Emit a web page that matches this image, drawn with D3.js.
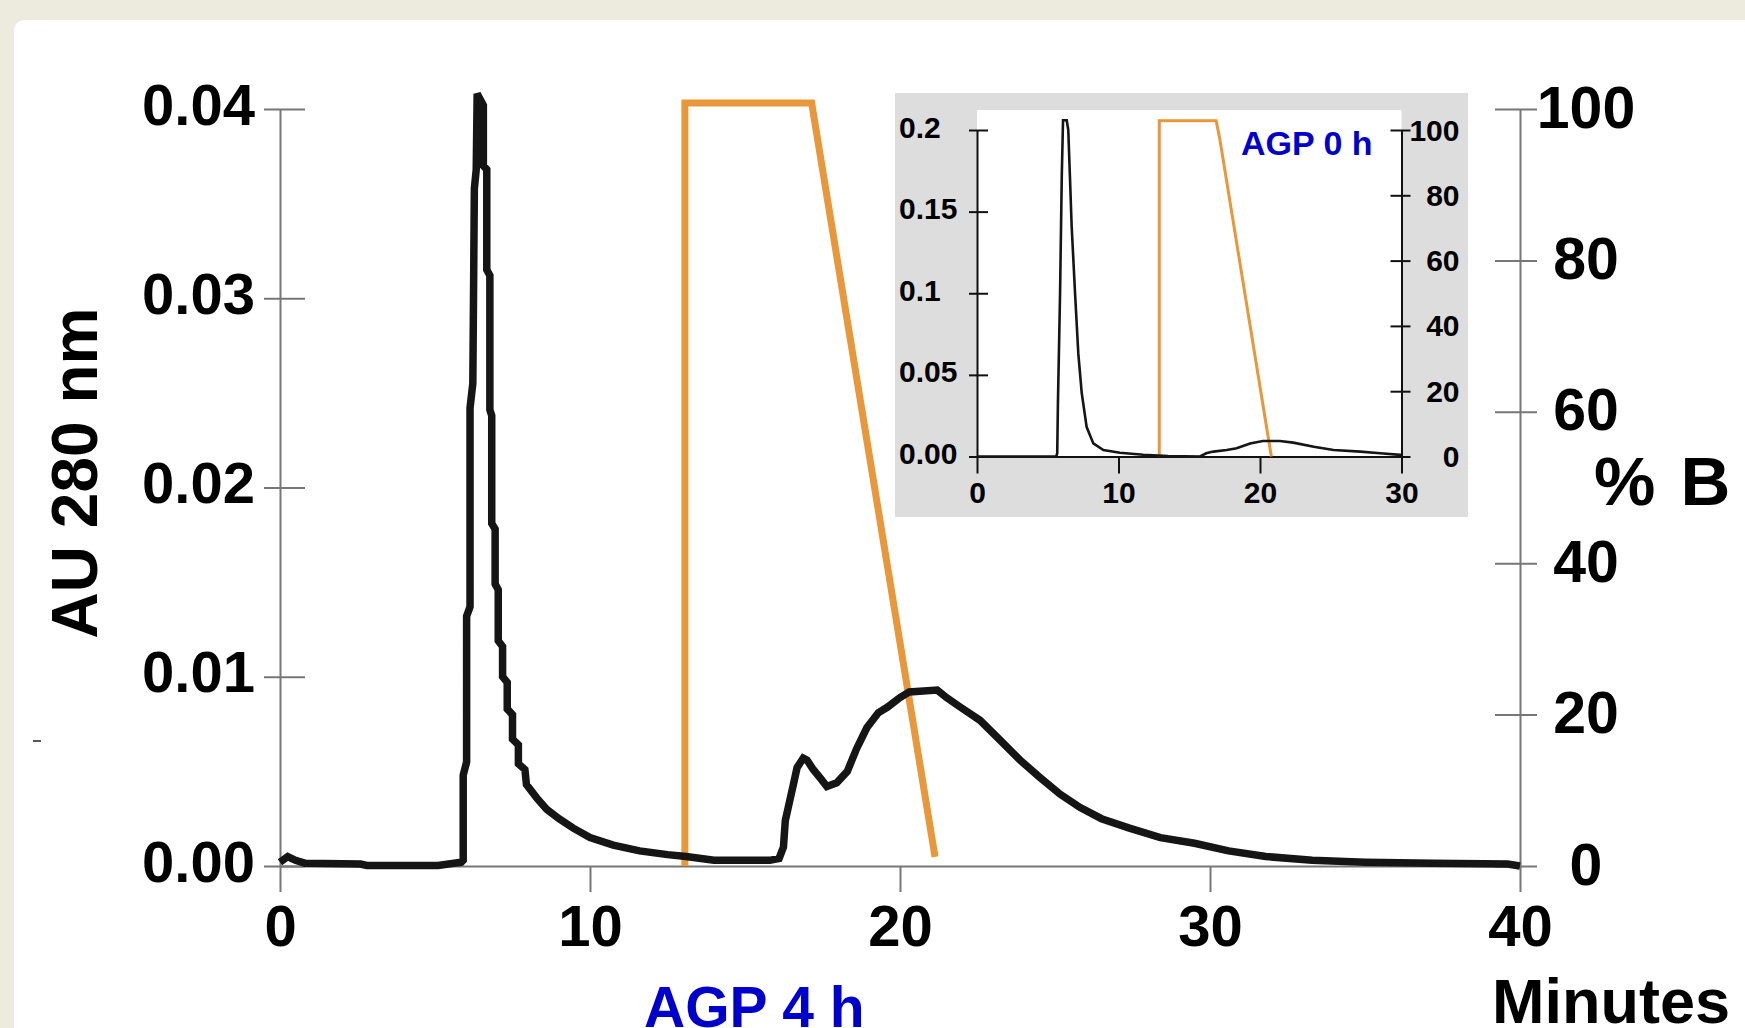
<!DOCTYPE html>
<html>
<head>
<meta charset="utf-8">
<script src="https://cdn.jsdelivr.net/npm/d3@7"></script>
<style>
    body { margin: 0; background: #edebde; }
    svg { display: block; font-family: "Liberation Sans", Arial, sans-serif; font-weight: bold; }
</style>
</head>
<body>
<svg id="chart" width="1745" height="1028"></svg>
<script>
// ---- main run: AGP 4 h ----
const mainTime = [0, 0.25, 0.5, 0.8, 2.6, 2.8, 5.1, 5.85, 5.91, 5.91, 6.02, 6.02, 6.13, 6.13, 6.22, 6.27, 6.33, 6.36,
    6.56, 6.56, 6.67, 6.67, 6.77, 6.77, 6.83, 6.83, 6.94, 6.94, 7.04, 7.04, 7.18, 7.18, 7.33, 7.33, 7.5, 7.5, 7.69, 7.69,
    7.9, 7.95, 8.28, 8.6, 9.0, 9.46, 10.0, 10.75, 11.6, 12.5, 13.1, 14.0, 15.8, 16.1, 16.24, 16.3, 16.45, 16.56, 16.68,
    16.88, 17.0, 17.2, 17.45, 17.64, 17.96, 18.3, 18.6, 18.93, 19.3, 19.6, 20.0, 20.3, 21.2, 21.5, 21.94, 22.58, 23.2,
    23.87, 24.5, 25.16, 25.8, 26.5, 27.4, 28.4, 29.5, 30.6, 31.8, 33.3, 35.0, 37.2, 39.6, 40.0];
const mainAbs = [0.0002, 0.0005, 0.0003, 0.00015, 0.0001, 0.00003, 0.00003, 0.0002, 0.0003, 0.0048, 0.0055, 0.0132,
    0.0137, 0.0242, 0.0255, 0.0358, 0.0368, 0.0408,
    0.0402, 0.0370, 0.0368, 0.0315, 0.0312, 0.0241, 0.0238, 0.0181, 0.0178, 0.0149, 0.0146, 0.0119, 0.0116, 0.0100,
    0.0097, 0.0083, 0.0080, 0.0067, 0.0064, 0.0054,
    0.0051, 0.0043, 0.0036, 0.0030, 0.0025, 0.0020, 0.0015, 0.0011, 0.0008, 0.0006, 0.0005, 0.0003, 0.0003, 0.0004,
    0.0010, 0.0024, 0.0035, 0.0043, 0.0052,
    0.0057, 0.0056, 0.0051, 0.0046, 0.0042, 0.0044, 0.0050, 0.0062, 0.0073, 0.0081, 0.0084, 0.0089, 0.0092, 0.0093,
    0.0089, 0.0084, 0.0077, 0.0067,
    0.0056, 0.0047, 0.0038, 0.0031, 0.0025, 0.0020, 0.0015, 0.0012, 0.0008, 0.0005, 0.0003, 0.0002, 0.00014, 0.0001, 0.0];
const mainGradTime = [13.06, 13.06, 17.15, 21.13];
const mainGradB = [0, 100.8, 100.8, 1.2];

const mainXTicks = [0, 10, 20, 30, 40];
const mainAbsTicks = [0, 0.01, 0.02, 0.03, 0.04];
const mainBTicks = [0, 20, 40, 60, 80, 100];

// ---- inset run: AGP 0 h ----
const insetTime = [0, 5.6, 5.67, 5.72, 5.87, 5.99, 6.08, 6.34, 6.45, 6.57, 6.69, 6.93, 7.16, 7.4, 7.75, 8.22, 8.93,
    10.1, 11.75, 13.5, 15.76, 16.2, 16.7, 17.65, 18.35, 19.3, 20.2, 21.4, 22.35, 23.8, 25.2, 27.1, 28.5, 29.9, 30];
const insetAbs = [0, 0, 0.002, 0.033, 0.1, 0.171, 0.206, 0.206, 0.2, 0.171, 0.141, 0.1, 0.063, 0.039, 0.018, 0.008, 0.004,
    0.0023, 0.0011, 0.0003, 0, 0.002, 0.003, 0.004, 0.005, 0.008, 0.0095, 0.0095, 0.0085, 0.006, 0.004, 0.003, 0.002, 0.001, 0.001];
const insetGradTime = [12.88, 12.88, 16.9, 17.15, 20.8];
const insetGradB = [0, 102.8, 102.8, 97.5, 0];

const insetXTicks = [0, 10, 20, 30];
const insetAbsTicks = [0, 0.05, 0.1, 0.15, 0.2];
const insetBTicks = [0, 20, 40, 60, 80, 100];

const svg = d3.select("#chart");
const axisGrey = "#777";
const traceBlack = "#151515";
const gradOrange = "#e8973a";
const labelBlue = "#0000cc";

// white card on the beige page
svg.append("rect")
    .attr("x", 14).attr("y", 20)
    .attr("width", 1760).attr("height", 1040)
    .attr("rx", 10)
    .attr("fill", "#fff");

// stray mark left of the y title
svg.append("line")
    .attr("x1", 33).attr("x2", 41).attr("y1", 741).attr("y2", 741)
    .attr("stroke", "#222").attr("stroke-width", 1.5);

// ================= main chart =================
const x = d3.scaleLinear().domain([0, 40]).range([280, 1520]);
const yAbs = d3.scaleLinear().domain([0, 0.04]).range([866, 109]);
const yB = d3.scaleLinear().domain([0, 100]).range([866, 109]);

function styleAxis(g, colour) {
    g.select(".domain").attr("stroke", colour).attr("stroke-width", 2);
    g.selectAll(".tick line").attr("stroke", colour).attr("stroke-width", 2);
    g.selectAll(".tick text").attr("fill", "#000");
}

const leftAxis = svg.append("g")
    .attr("transform", `translate(${x(0)},0)`)
    .call(d3.axisLeft(yAbs).tickValues(mainAbsTicks).tickFormat(d3.format(".2f")).tickSize(0).tickPadding(25));
styleAxis(leftAxis, axisGrey);
leftAxis.selectAll(".tick line").attr("x1", -16).attr("x2", 25);
leftAxis.selectAll(".tick text").attr("font-size", 58).attr("dy", 15);

const rightAxis = svg.append("g")
    .attr("transform", `translate(${x(40)},0)`)
    .call(d3.axisRight(yB).tickValues(mainBTicks).tickSize(0));
styleAxis(rightAxis, axisGrey);
rightAxis.selectAll(".tick line").attr("x1", -25).attr("x2", 17);
rightAxis.selectAll(".tick text")
    .attr("font-size", 59).attr("text-anchor", "middle")
    .attr("x", 66).attr("dy", 18);

const bottomAxis = svg.append("g")
    .attr("transform", `translate(0,${yAbs(0)})`)
    .call(d3.axisBottom(x).tickValues(mainXTicks).tickSize(26).tickSizeOuter(0).tickPadding(13));
styleAxis(bottomAxis, axisGrey);
bottomAxis.selectAll(".tick text").attr("font-size", 58);

// traces
const mainLine = d3.line()
    .x(d => x(d[0]))
    .y(d => yAbs(d[1]));
const mainGradLine = d3.line()
    .x(d => x(d[0]))
    .y(d => yB(d[1]));

svg.append("path")
    .datum(d3.zip(mainGradTime, mainGradB))
    .attr("d", mainGradLine)
    .attr("fill", "none")
    .attr("stroke", gradOrange)
    .attr("stroke-width", 7);

svg.append("path")
    .datum(d3.zip(mainTime, mainAbs))
    .attr("d", mainLine)
    .attr("fill", "none")
    .attr("stroke", traceBlack)
    .attr("stroke-width", 7.5)
    .attr("stroke-linejoin", "miter")
    .attr("stroke-miterlimit", 2);

// titles
svg.append("text")
    .attr("transform", "translate(97,473) rotate(-90)")
    .attr("text-anchor", "middle")
    .attr("font-size", 64)
    .text("AU 280 nm");

svg.append("text")
    .attr("x", 1594).attr("y", 505)
    .attr("font-size", 69)
    .attr("word-spacing", 6)
    .text("% B");

svg.append("text")
    .attr("x", 1492).attr("y", 1023)
    .attr("font-size", 63)
    .text("Minutes");

svg.append("text")
    .attr("x", 644).attr("y", 1027)
    .attr("font-size", 57)
    .attr("fill", labelBlue)
    .text("AGP 4 h");

// ================= inset =================
const xi = d3.scaleLinear().domain([0, 30]).range([977, 1401.5]);
const yiAbs = d3.scaleLinear().domain([0, 0.2]).range([456.5, 130]);
const yiB = d3.scaleLinear().domain([0, 100]).range([456.5, 130]);

const inset = svg.append("g");

inset.append("rect")
    .attr("x", 895).attr("y", 93)
    .attr("width", 573).attr("height", 424)
    .attr("fill", "#dddddd");

inset.append("rect")
    .attr("x", xi(0)).attr("y", 110)
    .attr("width", xi(30) - xi(0)).attr("height", yiAbs(0) - 110)
    .attr("fill", "#fff");

const iLeft = inset.append("g")
    .attr("transform", `translate(${xi(0)},0)`)
    .call(d3.axisLeft(yiAbs).tickValues(insetAbsTicks)
        .tickFormat(d => d === 0 ? "0.00" : String(d)).tickSize(0));
styleAxis(iLeft, "#111");
iLeft.selectAll(".tick line").attr("x1", -8).attr("x2", 11);
iLeft.selectAll(".tick text")
    .attr("font-size", 30).attr("text-anchor", "start")
    .attr("x", -78).attr("dy", 7);

const iRight = inset.append("g")
    .attr("transform", `translate(${xi(30)},0)`)
    .call(d3.axisRight(yiB).tickValues(insetBTicks).tickSize(0));
styleAxis(iRight, "#111");
iRight.selectAll(".tick line").attr("x1", -11).attr("x2", 9);
iRight.selectAll(".tick text")
    .attr("font-size", 30).attr("text-anchor", "end")
    .attr("x", 58).attr("dy", 10);

const iBottom = inset.append("g")
    .attr("transform", `translate(0,${yiAbs(0)})`)
    .call(d3.axisBottom(xi).tickValues(insetXTicks).tickSize(17).tickSizeOuter(0).tickPadding(8));
styleAxis(iBottom, "#111");
iBottom.selectAll(".tick text").attr("font-size", 30);

inset.append("path")
    .datum(d3.zip(insetGradTime, insetGradB))
    .attr("d", d3.line().x(d => xi(d[0])).y(d => yiB(d[1])))
    .attr("fill", "none")
    .attr("stroke", gradOrange)
    .attr("stroke-width", 3);

inset.append("path")
    .datum(d3.zip(insetTime, insetAbs))
    .attr("d", d3.line().x(d => xi(d[0])).y(d => yiAbs(d[1])))
    .attr("fill", "none")
    .attr("stroke", traceBlack)
    .attr("stroke-width", 2.6);

inset.append("text")
    .attr("x", 1241).attr("y", 155)
    .attr("font-size", 34)
    .attr("fill", labelBlue)
    .text("AGP 0 h");
</script>
</body>
</html>
